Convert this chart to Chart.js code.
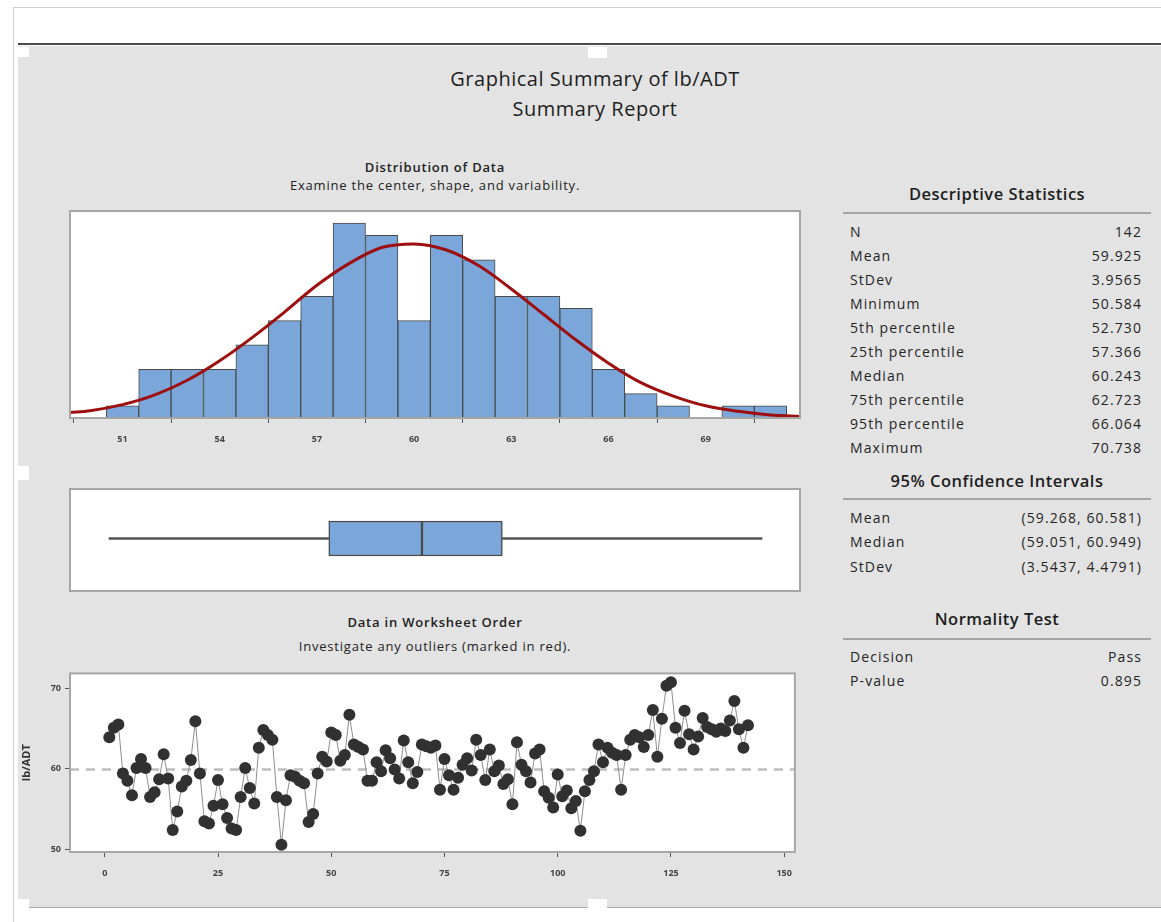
<!DOCTYPE html>
<html>
<head>
<meta charset="utf-8">
<script src="https://cdn.jsdelivr.net/npm/chart.js@4.4.0/dist/chart.umd.min.js"></script>
<style>
html,body{margin:0;padding:0;background:#fff;width:1161px;height:922px;overflow:hidden;font-family:'Open Sans','Liberation Sans',sans-serif;color:#222;}
#frameTop{position:absolute;left:13px;top:7px;width:1148px;height:0;border-top:1px solid #cfcfcf;}
#frameLeft{position:absolute;left:13px;top:7px;width:0;height:915px;border-left:1px solid #cfcfcf;}
#darkRule{position:absolute;left:18px;top:43px;width:1143px;height:2px;background:#4a4a4a;}
#panel{position:absolute;left:18px;top:46px;width:1143px;height:861px;background:#e3e3e3;border-bottom:1px solid #a8a8a8;}
.handle{position:absolute;background:#fff;}
.t{position:absolute;white-space:nowrap;transform:translate(-50%,-50%);}
.title{font-size:20px;letter-spacing:0.5px;color:#1e1e1e;}
.sub{font-size:13px;letter-spacing:0.8px;color:#222;}
.subb{font-size:13px;letter-spacing:0.8px;font-weight:600;color:#222;}
.row{position:absolute;left:850px;width:292px;height:20px;display:flex;justify-content:space-between;align-items:center;font-size:14px;letter-spacing:1.1px;color:#252525;transform:translateY(-50%);}
.rule{position:absolute;left:843px;width:308px;height:2px;background:#a4a4a4;}
.hdr{font-size:16.5px;letter-spacing:0.5px;font-weight:600;color:#1e1e1e;}
canvas{position:absolute;}
</style>
</head>
<body>
<div id="frameTop"></div>
<div id="frameLeft"></div>
<div id="darkRule"></div>
<div id="panel"></div>
<div class="handle" style="left:18px;top:47px;width:11px;height:10px"></div>
<div class="handle" style="left:588px;top:47px;width:19px;height:11px"></div>
<div class="handle" style="left:18px;top:466px;width:11px;height:14px"></div>
<div class="handle" style="left:18px;top:899px;width:11px;height:10px"></div>
<div class="handle" style="left:588px;top:899px;width:19px;height:10px"></div>

<div class="t title" style="left:595px;top:78px;">Graphical Summary of lb/ADT</div>
<div class="t title" style="left:595px;top:108px;">Summary Report</div>
<div class="t subb" style="left:435px;top:167px;">Distribution of Data</div>
<div class="t sub" style="left:435px;top:185px;">Examine the center, shape, and variability.</div>
<div class="t subb" style="left:435px;top:622px;">Data in Worksheet Order</div>
<div class="t sub" style="left:435px;top:646px;">Investigate any outliers (marked in red).</div>

<div id="stats"></div>

<canvas id="hist" width="734" height="239" style="left:68px;top:209px;width:734px;height:239px"></canvas>
<canvas id="box" width="734" height="106" style="left:68px;top:487px;width:734px;height:106px"></canvas>
<canvas id="ts" width="783" height="218" style="left:20px;top:664px;width:783px;height:218px"></canvas>

<script>
// ---------- data ----------
const histBinCenters = [51,52,53,54,55,56,57,58,59,60,61,62,63,64,65,66,67,68,69,70,71];
const histCounts     = [1,4,4,4,6,8,10,16,15,8,15,13,10,10,9,4,2,1,0,1,1];
const histTickStep = 3;

const curveX = [49.38,50,51,52,53,54,55,56,57,58,59,60,61,62,63,64,65,66,67,68,69,70,71,71.91];
const curveY = [0.45,0.6,1.1,1.9,3.1,4.7,6.6,8.7,10.9,12.7,14.0,14.3,13.8,12.5,10.6,8.5,6.4,4.5,2.9,1.8,1.0,0.55,0.25,0.12];

const lbADT = [
 63.9,65.1,65.5,59.4,58.5,56.7,60.1,61.2,60.1,56.5,
 57.1,58.7,61.8,58.8,52.4,54.7,57.8,58.5,61.1,65.9,
 59.4,53.5,53.2,55.4,58.6,55.6,53.9,52.6,52.4,56.5,
 60.1,57.6,55.7,62.6,64.8,64.2,63.6,56.5,50.584,56.1,
 59.2,59.0,58.5,58.2,53.4,54.4,59.4,61.5,60.9,64.5,
 64.2,61.0,61.7,66.7,63.0,62.7,62.4,58.5,58.5,60.8,
 59.7,62.3,61.3,59.9,58.8,63.5,60.8,58.2,59.6,63.0,
 62.8,62.6,62.9,57.4,61.2,59.2,57.4,58.9,60.5,61.3,
 59.8,63.6,61.7,58.6,62.4,59.7,60.4,58.1,58.7,55.6,
 63.3,60.5,59.7,58.3,61.9,62.4,57.2,56.4,55.2,59.3,
 56.6,57.3,55.1,56.0,52.3,57.2,58.6,59.7,63.0,60.8,
 62.6,62.0,61.7,57.4,61.7,63.6,64.2,63.9,62.7,64.2,
 67.3,61.5,66.2,70.3,70.738,65.1,63.2,67.2,64.3,62.4,
 64.0,66.3,65.2,64.9,64.6,65.0,64.7,66.0,68.4,64.9,
 62.6,65.4
];
const tsXTicks = [0,25,50,75,100,125,150];
const tsYTicks = [50,60,70];

const statLabels = ['N','Mean','StDev','Minimum','5th percentile','25th percentile','Median','75th percentile','95th percentile','Maximum'];
const statValues = ['142','59.925','3.9565','50.584','52.730','57.366','60.243','62.723','66.064','70.738'];
const ciLabels = ['Mean','Median','StDev'];
const ciValues = ['(59.268, 60.581)','(59.051, 60.949)','(3.5437, 4.4791)'];
const normLabels = ['Decision','P-value'];
const normValues = ['Pass','0.895'];

const meanValue = 59.925;
const fiveNumber = [50.584, 57.366, 60.243, 62.723, 70.738]; // min, Q1, median, Q3, max

// ---------- axis ranges ----------
const distMin = 49.38, distMax = 71.91;
const tsXMin = -7.68, tsXMax = 152.36, tsYMin = 49.67, tsYMax = 71.84;

// ---------- right-hand text panel ----------
(function(){
  const host = document.getElementById('stats');
  function header(text, y){ const d=document.createElement('div'); d.className='t hdr'; d.style.left='997px'; d.style.top=y+'px'; d.textContent=text; host.appendChild(d); }
  function rule(y){ const d=document.createElement('div'); d.className='rule'; d.style.top=y+'px'; host.appendChild(d); }
  function rows(labels, values, y0, dy){
    labels.forEach((l,i)=>{ const r=document.createElement('div'); r.className='row'; r.style.top=(y0+i*dy)+'px';
      const a=document.createElement('span'); a.textContent=l; const b=document.createElement('span'); b.textContent=values[i];
      r.appendChild(a); r.appendChild(b); host.appendChild(r); });
  }
  header('Descriptive Statistics',193); rule(212); rows(statLabels,statValues,231,24);
  header('95% Confidence Intervals',480); rule(498); rows(ciLabels,ciValues,517,24.5);
  header('Normality Test',618); rule(638); rows(normLabels,normValues,656,24);
})();

// ---------- plugins ----------
const framePlugin = {
  id:'frame',
  beforeDraw(chart){ const {ctx, chartArea:a}=chart; ctx.save(); ctx.fillStyle='#fff'; ctx.fillRect(a.left,a.top,a.right-a.left,a.bottom-a.top); ctx.restore(); },
  afterDraw(chart){ const {ctx, chartArea:a}=chart; ctx.save(); ctx.strokeStyle='#a6a6a6'; ctx.lineWidth=2; ctx.strokeRect(a.left,a.top,a.right-a.left,a.bottom-a.top); ctx.restore(); }
};
Chart.defaults.font.family = "'Open Sans','Liberation Sans',sans-serif";
const tickFont = {size:9, weight:'bold'};

// ---------- histogram ----------
new Chart(document.getElementById('hist'), {
  type:'bar',
  data:{ datasets:[
    { type:'line', data: curveX.map((x,i)=>({x:x, y:curveY[i]})), borderColor:'#9e0e0e', borderWidth:3, pointRadius:0, cubicInterpolationMode:'monotone', order:0 },
    { type:'bar', data: histBinCenters.map((x,i)=>({x:x, y:histCounts[i]})), backgroundColor:'#7ba6d9', borderColor:'#4a4a4a', borderWidth:1, barPercentage:1, categoryPercentage:1, order:1 }
  ]},
  options:{
    animation:false, responsive:false,
    plugins:{legend:{display:false}, tooltip:{enabled:false}},
    layout:{padding:{left:2,right:2,top:2,bottom:0}},
    scales:{
      x:{ type:'linear', min:distMin, max:distMax, offset:false,
          ticks:{stepSize:histTickStep, includeBounds:false, font:tickFont, color:'#444', padding:11, maxRotation:0},
          grid:{drawOnChartArea:false, tickLength:5, color:'#555'}, border:{display:false},
          afterFit(s){ s.height=30; } },
      y:{ display:false, min:0, max:17 }
    }
  },
  plugins:[framePlugin]
});

// ---------- box plot ----------
new Chart(document.getElementById('box'), {
  type:'bar',
  data:{ labels:['lb/ADT'], datasets:[
    { data:[[fiveNumber[0], fiveNumber[1]]], backgroundColor:'#555', borderWidth:0, barThickness:2, grouped:false },
    { data:[[fiveNumber[3], fiveNumber[4]]], backgroundColor:'#555', borderWidth:0, barThickness:2, grouped:false },
    { data:[[fiveNumber[1], fiveNumber[2]]], backgroundColor:'#7ba6d9', borderColor:'#4a4a4a', borderWidth:1.5, borderSkipped:false, barThickness:35, grouped:false },
    { data:[[fiveNumber[2], fiveNumber[3]]], backgroundColor:'#7ba6d9', borderColor:'#4a4a4a', borderWidth:1.5, borderSkipped:false, barThickness:35, grouped:false }
  ]},
  options:{
    indexAxis:'y', animation:false, responsive:false,
    plugins:{legend:{display:false}, tooltip:{enabled:false}},
    layout:{padding:{left:2,right:2,top:2,bottom:5}},
    scales:{ x:{display:false, type:'linear', min:distMin, max:distMax}, y:{display:false} }
  },
  plugins:[{
    id:'boxframe',
    beforeDraw(chart){ const {ctx}=chart; ctx.save(); ctx.fillStyle='#fff'; ctx.fillRect(2,2,730,102); ctx.restore(); },
    afterDraw(chart){ const {ctx}=chart; ctx.save(); ctx.strokeStyle='#a6a6a6'; ctx.lineWidth=2; ctx.strokeRect(2,2,730,102); ctx.restore(); }
  }]
});

// ---------- time order plot ----------
new Chart(document.getElementById('ts'), {
  type:'line',
  data:{ datasets:[
    { data: lbADT.map((v,i)=>({x:i+1, y:v})), borderColor:'#8f8f8f', borderWidth:1, pointRadius:6, pointBackgroundColor:'#313131', pointBorderWidth:0, tension:0, order:1 },
    { data: [{x:tsXMin, y:meanValue},{x:tsXMax, y:meanValue}], borderColor:'#bdbdbd', borderWidth:2.5, borderDash:[9,7], pointRadius:0, order:2 }
  ]},
  options:{
    animation:false, responsive:false,
    plugins:{legend:{display:false}, tooltip:{enabled:false}},
    layout:{padding:{left:0,right:4,top:4,bottom:0}},
    scales:{
      x:{ type:'linear', min:tsXMin, max:tsXMax,
          afterBuildTicks(s){ s.ticks = tsXTicks.map(v=>({value:v})); },
          ticks:{font:tickFont, color:'#444', padding:11, maxRotation:0},
          grid:{drawOnChartArea:false, tickLength:5, color:'#555'}, border:{display:false},
          afterFit(s){ s.height=30; } },
      y:{ type:'linear', min:tsYMin, max:tsYMax,
          afterBuildTicks(s){ s.ticks = tsYTicks.map(v=>({value:v})); },
          ticks:{font:tickFont, color:'#444', padding:4},
          grid:{drawOnChartArea:false, tickLength:5, color:'#555'}, border:{display:false},
          title:{display:true, text:'lb/ADT', font:{size:11, weight:'bold'}, color:'#333', padding:{top:0,bottom:0}},
          afterFit(s){ s.width=50; } }
    }
  },
  plugins:[framePlugin]
});
</script>
</body>
</html>
